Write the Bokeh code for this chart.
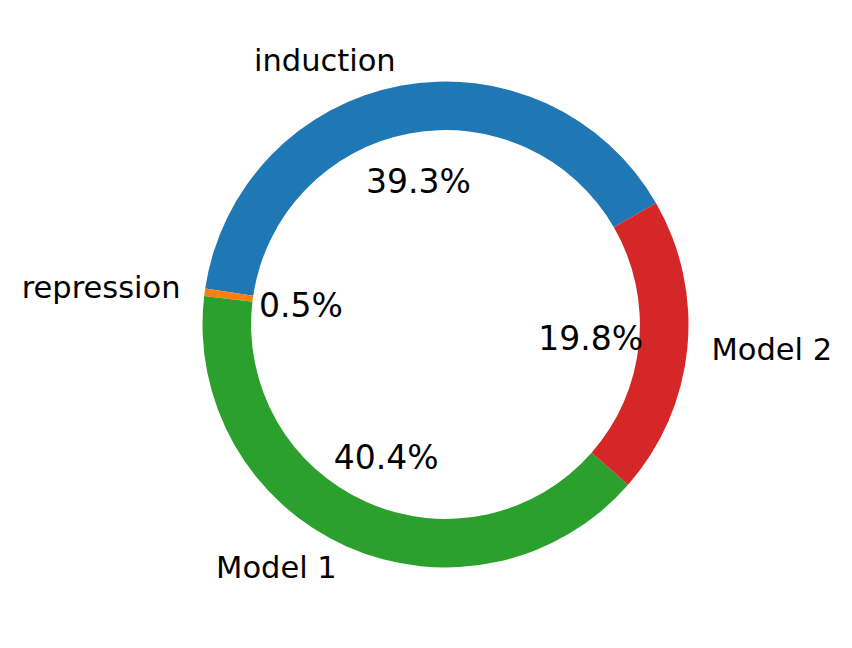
import math
from bokeh.plotting import figure
from bokeh.models import Range1d, ColumnDataSource
from bokeh.core.properties import value
from bokeh.embed import file_html
from bokeh.resources import INLINE

labels = ["induction", "repression", "Model 1", "Model 2"]
values = [39.3, 0.5, 40.4, 19.8]
colors = ["#1f77b4", "#ff7f0e", "#2ca02c", "#d62728"]

W, H = 836, 632
R = 243.0
cx, cy = 445.0, 324.0  # center in plot pixels (from top-left)

p = figure(width=W, height=H, output_backend="svg", toolbar_location=None,
           x_range=Range1d(-cx / R, (W - cx) / R),
           y_range=Range1d(-(H - cy) / R, cy / R),
           min_border=0)
p.axis.visible = False
p.grid.visible = False
p.outline_line_color = None
p.background_fill_color = "white"
p.border_fill_color = "white"

total = sum(values)
start = 30.0
starts, ends, mids = [], [], []
for v in values:
    a = 360.0 * v / total
    starts.append(math.radians(start))
    ends.append(math.radians(start + a))
    mids.append(start + a / 2)
    start += a

src = ColumnDataSource(dict(start=starts, end=ends, color=colors))
p.annular_wedge(x=0, y=0, inner_radius=0.8, outer_radius=1.0,
                start_angle="start", end_angle="end",
                fill_color="color", line_color=None, source=src)

lx, ly, la = [], [], []
px, py, ptxt = [], [], []
for lab, v, m in zip(labels, values, mids):
    rad = math.radians(m)
    x = 1.1 * math.cos(rad)
    y = 1.1 * math.sin(rad)
    lx.append(x)
    ly.append(y + 0.006)
    la.append("left" if x > 0 else "right")
    px.append(0.6 * math.cos(rad))
    py.append(0.6 * math.sin(rad))
    ptxt.append("%.1f%%" % v)

p.text(x="x", y="y", text="t", text_align="a", text_baseline="middle",
       text_font=value("DejaVu Sans"), text_font_size="30.5px", text_color="black",
       source=ColumnDataSource(dict(x=lx, y=ly, t=labels, a=la)))
p.text(x="x", y="y", text="t", text_align="center", text_baseline="middle",
       text_font=value("DejaVu Sans"), text_font_size="33px", text_color="black",
       source=ColumnDataSource(dict(x=px, y=py, t=ptxt)))

open("out.html", "w").write(file_html(p, INLINE))
